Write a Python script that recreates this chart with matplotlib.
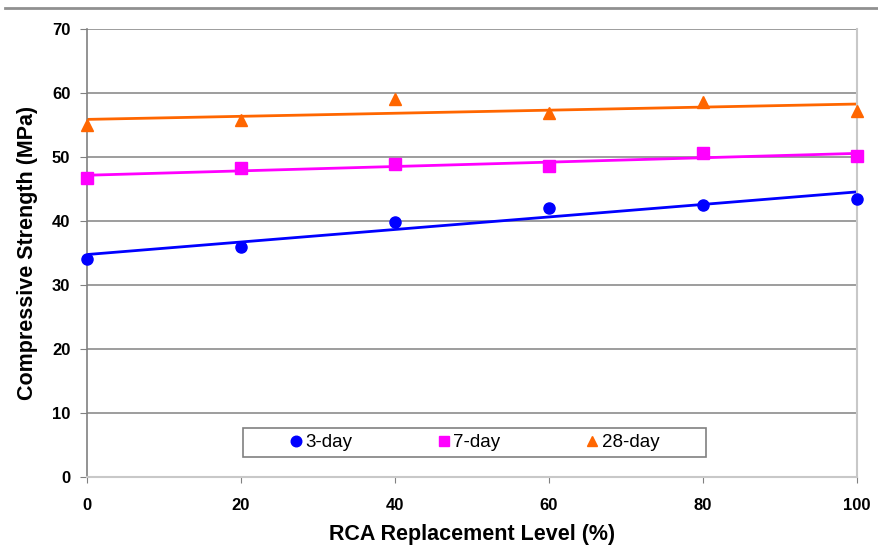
import matplotlib
matplotlib.use("Agg")
import matplotlib.pyplot as plt
import numpy as np
from matplotlib.lines import Line2D
from matplotlib.patches import Rectangle

plt.rcParams['font.family'] = ['Liberation Sans', 'DejaVu Sans']

# RCA replacement level (%)
rca = [0, 20, 40, 60, 80, 100]
# compressive strength (MPa)
day3 = [34.1, 35.9, 39.9, 42.1, 42.5, 43.4]
day7 = [46.7, 48.2, 48.9, 48.6, 50.6, 50.1]
day28 = [55.0, 55.8, 59.0, 56.9, 58.6, 57.1]

labels = ['3-day', '7-day', '28-day']
colors = ['#0000ff', '#ff00ff', '#ff6600']
markers = ['o', 's', '^']
series = [day3, day7, day28]

fig = plt.figure(figsize=(8.79, 5.56), dpi=100, facecolor='white')
ax = fig.add_axes([0.099, 0.142, 0.876, 0.806])

x = np.array(rca, dtype=float)
xfit = np.array([0., 100.])
for ys, lab, c, m in zip(series, labels, colors, markers):
    ax.plot(x, ys, linestyle='none', marker=m, color=c, markersize=8,
            label=lab, zorder=3, clip_on=False)
    # linear trend lines like the excel chart
    k, b = np.polyfit(x, ys, 1)
    ax.plot(xfit, k*xfit + b, color=c, linewidth=2, zorder=2)

ax.set_xlim(0, 100)
ax.set_ylim(0, 70)
ax.set_xticks(np.arange(0, 101, 20))
ax.set_yticks(np.arange(0, 71, 10))
ax.grid(True, axis='y', color='#8c8c8c', linewidth=1.2)
ax.set_axisbelow(True)

ax.spines['top'].set_visible(False)
ax.spines['left'].set_color('#808080')
ax.spines['left'].set_linewidth(1.2)
ax.spines['bottom'].set_color('#c8c8c8')
ax.spines['bottom'].set_linewidth(1.5)
ax.spines['right'].set_color('#c8c8c8')
ax.spines['right'].set_linewidth(1.5)

ax.tick_params(axis='y', direction='out', length=5, color='#808080',
               labelsize=12, pad=7)
ax.tick_params(axis='x', direction='out', length=4, color='#808080',
               labelsize=12, pad=11)
for t in ax.get_xticklabels() + ax.get_yticklabels():
    t.set_fontweight('bold')

ax.set_xlabel('RCA Replacement Level (%)', fontsize=15.5, fontweight='bold',
              labelpad=8)
ax.set_ylabel('Compressive Strength (MPa)', fontsize=15.5, fontweight='bold',
              labelpad=10)

# legend box drawn separately (wide padded excel style frame)
ax.add_patch(Rectangle((0.202, 0.0446), 0.602, 0.0641, transform=ax.transAxes,
                       facecolor='white', edgecolor='#808080', linewidth=1.2,
                       zorder=4))
leg = ax.legend(loc='center', bbox_to_anchor=(0.502, 0.077), ncol=3,
                frameon=False, fontsize=13.5, handletextpad=0.1,
                columnspacing=4.5, handlelength=0.8, markerscale=0.95)
leg.set_zorder(5)

# page rule at top of the figure
fig.add_artist(Line2D([0.006, 1.0], [0.985, 0.985], color='#909090',
                      linewidth=2, transform=fig.transFigure))

fig.savefig('out.png', dpi=100, facecolor='white')
